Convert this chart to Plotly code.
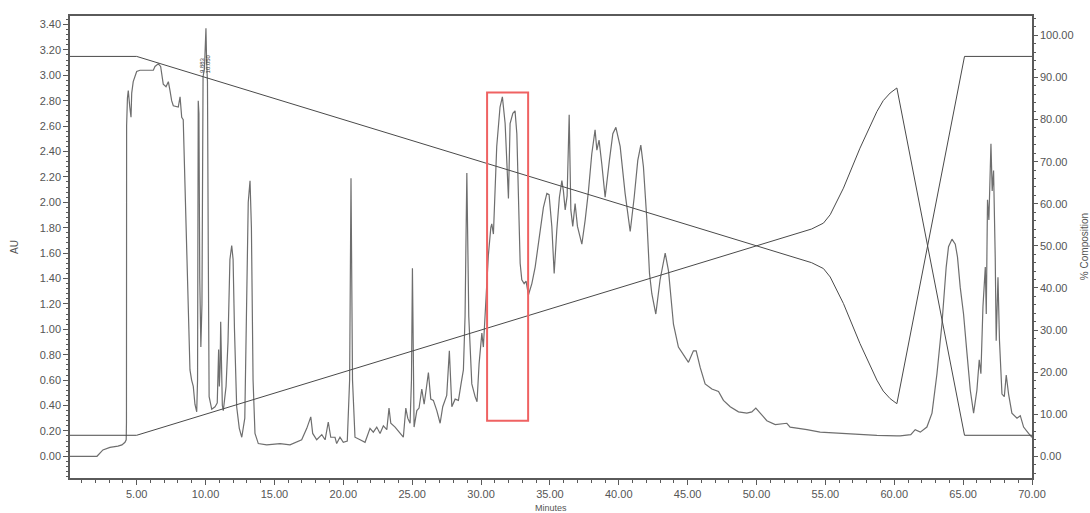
import plotly.graph_objects as go

# ---------------- data ----------------
time_min = [
    0.16, 2.12, 2.55, 3.06, 3.64, 3.93, 4.15, 4.24, 4.26, 4.27, 4.33, 4.39, 4.50, 4.59, 4.64, 4.75,
    5.00, 5.24, 5.73, 6.21, 6.33, 6.57, 6.74, 6.93, 7.13, 7.30, 7.42, 7.54, 7.66, 8.02, 8.15, 8.27,
    8.38, 8.51, 8.63, 8.75, 8.87, 8.99, 9.11, 9.23, 9.36, 9.42, 9.47, 9.52, 9.58, 9.66, 9.74, 9.82,
    9.92, 9.98, 10.03, 10.08, 10.14, 10.20, 10.26, 10.45, 10.69, 10.85, 10.95, 11.00, 11.06, 11.10,
    11.15, 11.22, 11.29, 11.49, 11.63, 11.77, 11.90, 12.00, 12.10, 12.26, 12.45, 12.63, 12.85, 13.00,
    13.10, 13.23, 13.33, 13.45, 13.59, 13.83, 14.44, 15.41, 16.13, 16.98, 17.35, 17.64, 17.78, 18.07,
    18.44, 18.68, 18.91, 19.09, 19.40, 19.52, 19.76, 20.00, 20.29, 20.46, 20.56, 20.67, 20.85, 21.22,
    21.58, 21.94, 22.18, 22.43, 22.67, 22.91, 23.16, 23.32, 23.45, 23.76, 24.12, 24.36, 24.54, 24.68,
    24.85, 24.95, 25.02, 25.09, 25.14, 25.34, 25.50, 25.70, 25.87, 26.01, 26.18, 26.35, 26.54, 26.79,
    27.03, 27.22, 27.51, 27.70, 27.88, 28.12, 28.36, 28.55, 28.72, 28.84, 28.97, 29.11, 29.33, 29.57,
    29.71, 29.86, 30.06, 30.17, 30.42, 30.53, 30.71, 30.78, 30.90, 31.14, 31.38, 31.55, 31.75, 31.91,
    31.99, 32.11, 32.31, 32.47, 32.60, 32.84, 32.96, 33.13, 33.27, 33.44, 33.69, 33.93, 34.24, 34.53,
    34.78, 34.94, 35.14, 35.31, 35.50, 35.69, 35.87, 35.98, 36.11, 36.25, 36.40, 36.52, 36.66, 36.83,
    37.00, 37.32, 37.56, 37.80, 38.04, 38.28, 38.41, 38.57, 38.77, 39.01, 39.32, 39.57, 39.79, 40.10,
    40.46, 40.83, 41.12, 41.38, 41.60, 41.79, 42.04, 42.23, 42.40, 42.69, 43.00, 43.37, 43.61, 43.73,
    43.97, 44.33, 44.70, 45.06, 45.42, 45.62, 45.91, 46.27, 46.76, 47.24, 47.60, 48.09, 48.69, 49.30,
    49.66, 49.95, 50.27, 50.75, 51.36, 52.20, 52.44, 53.17, 53.66, 54.62, 56.08, 57.53, 58.74, 60.19,
    60.43, 61.20, 61.52, 61.89, 62.37, 62.74, 63.10, 63.46, 63.77, 63.94, 64.19, 64.43, 64.59, 64.79,
    65.03, 65.28, 65.52, 65.76, 66.00, 66.17, 66.29, 66.44, 66.61, 66.68, 66.77, 66.87, 67.02, 67.11,
    67.21, 67.33, 67.40, 67.53, 67.64, 67.82, 67.99, 68.13, 68.30, 68.54, 68.91, 69.15, 69.39, 69.75,
    70.00,
]
absorbance_au = [
    0.00, 0.00, 0.05, 0.07, 0.08, 0.09, 0.11, 0.13, 0.27, 2.60, 2.82, 2.88, 2.75, 2.67, 2.86, 2.95,
    3.03, 3.04, 3.04, 3.04, 3.07, 3.09, 3.07, 2.93, 2.91, 2.95, 2.88, 2.80, 2.76, 2.75, 2.83, 2.67,
    2.65, 2.12, 1.60, 1.07, 0.68, 0.60, 0.55, 0.41, 0.35, 0.60, 2.80, 2.70, 1.40, 0.86, 1.20, 2.99,
    3.05, 3.20, 3.37, 3.10, 2.95, 1.60, 0.47, 0.37, 0.39, 0.42, 0.84, 0.55, 0.70, 1.06,
    0.70, 0.40, 0.36, 0.55, 0.90, 1.55, 1.66, 1.55, 1.00, 0.39, 0.22, 0.15, 0.30, 1.20,
    2.00, 2.17, 1.80, 0.60, 0.18, 0.10, 0.09, 0.10, 0.09, 0.13, 0.22, 0.31, 0.18, 0.13,
    0.17, 0.13, 0.27, 0.15, 0.15, 0.10, 0.15, 0.11, 0.12, 0.60, 2.19, 0.60, 0.15, 0.13,
    0.11, 0.22, 0.19, 0.23, 0.18, 0.24, 0.21, 0.38, 0.26, 0.23, 0.18, 0.15, 0.38, 0.30,
    0.26, 0.60, 1.48, 0.60, 0.23, 0.36, 0.38, 0.53, 0.41, 0.52, 0.66, 0.45, 0.44, 0.36,
    0.26, 0.39, 0.48, 0.83, 0.39, 0.45, 0.44, 0.57, 0.68, 1.10, 2.23, 1.10, 0.57, 0.47,
    0.43, 0.73, 0.97, 0.86, 1.40, 1.58, 1.80, 1.83, 1.75, 2.44, 2.75, 2.83, 2.62, 2.17,
    2.03, 2.62, 2.70, 2.72, 2.54, 1.52, 1.39, 1.36, 1.38, 1.27, 1.36, 1.49, 1.73, 1.96,
    2.07, 2.06, 1.81, 1.44, 1.78, 2.04, 2.17, 2.09, 1.94, 2.05, 2.69, 1.94, 1.81, 1.99,
    1.81, 1.67, 1.86, 2.09, 2.38, 2.57, 2.41, 2.49, 2.30, 2.04, 2.33, 2.54, 2.59, 2.44,
    2.07, 1.77, 2.04, 2.33, 2.45, 2.28, 1.86, 1.44, 1.28, 1.12, 1.39, 1.60, 1.46, 1.33,
    1.04, 0.86, 0.80, 0.74, 0.83, 0.83, 0.70, 0.57, 0.53, 0.51, 0.44, 0.39, 0.35, 0.34,
    0.35, 0.38, 0.34, 0.28, 0.25, 0.26, 0.23, 0.22, 0.21, 0.19, 0.18, 0.17, 0.165, 0.16,
    0.16, 0.17, 0.21, 0.19, 0.23, 0.34, 0.65, 1.04, 1.49, 1.65, 1.71, 1.67, 1.57, 1.33,
    1.12, 0.81, 0.52, 0.34, 0.52, 0.76, 0.65, 1.18, 1.49, 1.12, 2.02, 1.86, 2.46, 2.09,
    2.25, 1.57, 0.91, 1.41, 0.91, 0.49, 0.47, 0.64, 0.49, 0.34, 0.30, 0.32, 0.23, 0.18,
    0.15,
]

grad_time = [0.16, 5.00, 54.00, 54.86, 55.35, 55.80, 56.31, 57.51, 58.74, 59.20, 59.70, 60.19, 65.10, 70.00]
solvent_a_pct = [95.0, 95.0, 46.0, 44.6, 42.6, 39.5, 36.3, 26.8, 18.1, 15.5, 13.7, 12.5, 95.0, 95.0]
solvent_b_pct = [5.0, 5.0, 54.0, 55.4, 57.4, 60.5, 63.7, 73.2, 81.9, 84.5, 86.3, 87.5, 5.0, 5.0]

x_ticks = [5, 10, 15, 20, 25, 30, 35, 40, 45, 50, 55, 60, 65, 70]
highlight_window = {"t0": 30.44, "t1": 33.42, "au0": 0.28, "au1": 2.865}
peak_labels = [("9.883", 9.80), ("10.050", 10.15)]

# ---------------- figure ----------------
FONT = "Liberation Sans, Arial, sans-serif"
TXT = "#555555"
AX = "#5a5a5a"

fig = go.Figure()
fig.add_trace(go.Scatter(x=time_min, y=absorbance_au, mode="lines",
                         line=dict(color="#6e6e6e", width=1.2), yaxis="y", showlegend=False))
fig.add_trace(go.Scatter(x=grad_time, y=solvent_a_pct, mode="lines",
                         line=dict(color="#4a4a4a", width=1), yaxis="y2", showlegend=False))
fig.add_trace(go.Scatter(x=grad_time, y=solvent_b_pct, mode="lines",
                         line=dict(color="#4a4a4a", width=1), yaxis="y2", showlegend=False))

fig.add_shape(type="rect", xref="x", yref="y",
              x0=highlight_window["t0"], x1=highlight_window["t1"],
              y0=highlight_window["au0"], y1=highlight_window["au1"],
              line=dict(color="#ef6262", width=2), fillcolor="rgba(0,0,0,0)")

for txt, t in peak_labels:
    fig.add_annotation(x=t, y=3.0, xref="x", yref="y", text=txt, textangle=-90,
                       showarrow=False, yanchor="bottom", font=dict(family=FONT, size=6, color="#333"))

fig.add_annotation(x=-0.066, y=0.5, xref="paper", yref="paper", text="AU", textangle=-90,
                   showarrow=False, font=dict(family=FONT, size=10, color=TXT))
fig.add_annotation(x=0.5, y=-0.065, xref="paper", yref="paper", text="Minutes",
                   showarrow=False, yanchor="middle", font=dict(family=FONT, size=9, color=TXT))
fig.add_annotation(x=1.062, y=0.5, xref="paper", yref="paper", text="% Composition", textangle=-90,
                   showarrow=False, font=dict(family=FONT, size=10, color=TXT))

fig.update_layout(
    width=1090, height=513,
    margin=dict(l=70, r=58, t=16, b=35),
    paper_bgcolor="white", plot_bgcolor="white",
    font=dict(family=FONT, size=11, color=TXT),
    xaxis=dict(range=[0.16, 70.0], tickvals=x_ticks, tickformat=".2f",
               showgrid=False, zeroline=False, showline=True, linecolor=AX, linewidth=1.5,
               mirror=True, ticks="outside", ticklen=5, tickcolor=AX,
               minor=dict(dtick=1, tick0=0, ticks="outside", ticklen=3, tickcolor=AX),
               tickfont=dict(family=FONT, size=11, color=TXT)),
    yaxis=dict(range=[-0.171, 3.467], tick0=0, dtick=0.2, tickformat=".2f",
               showgrid=False, zeroline=False, showline=True, linecolor=AX, linewidth=1.5,
               ticks="outside", ticklen=5, tickcolor=AX,
               minor=dict(dtick=0.04, tick0=0, ticks="outside", ticklen=2, tickcolor=AX),
               tickfont=dict(family=FONT, size=11, color=TXT)),
    yaxis2=dict(range=[-5.15, 104.6], tick0=0, dtick=10, tickformat=".2f",
                overlaying="y", side="right",
                showgrid=False, zeroline=False, showline=True, linecolor=AX, linewidth=1.5,
                ticks="outside", ticklen=4, tickcolor=AX,
                minor=dict(dtick=2, tick0=0, ticks="outside", ticklen=2, tickcolor=AX),
                tickfont=dict(family=FONT, size=11, color=TXT)),
)

fig.write_html("out.html")
